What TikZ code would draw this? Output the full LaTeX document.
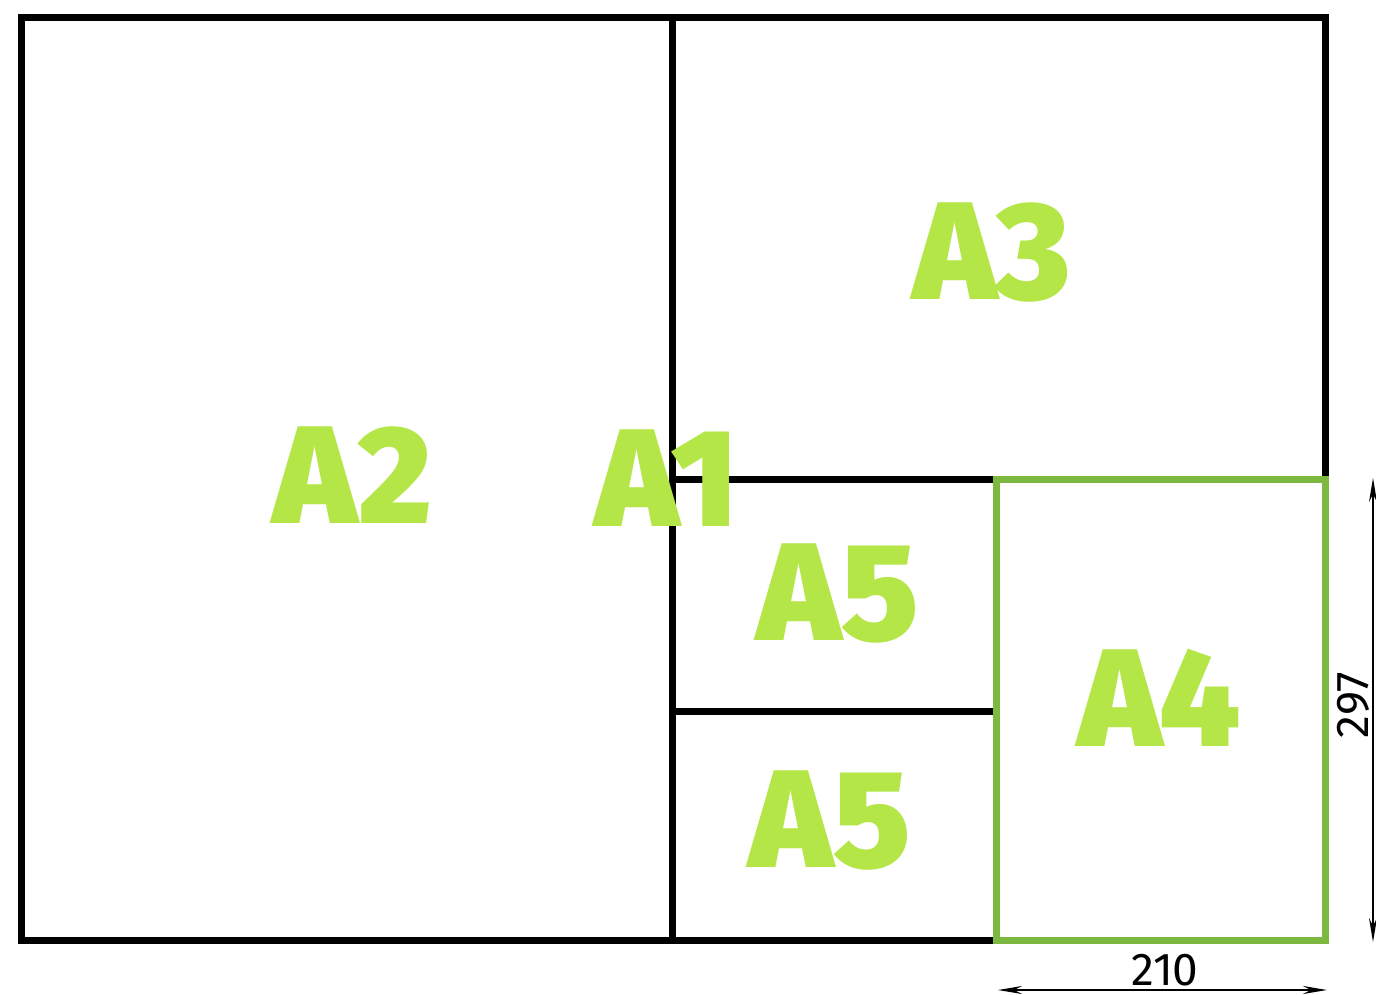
\documentclass[tikz,border=0pt]{standalone}
\usepackage{fontspec}
\setmainfont{Fira Sans}
\newfontfamily\heavyfont{Fira Sans}[UprightFont=* Black]
\usetikzlibrary{arrows.meta}
\definecolor{limegreen}{RGB}{181,230,72}
\definecolor{leafgreen}{RGB}{125,184,65}

\begin{document}
\begin{tikzpicture}[
x=1pt, y=-1pt,
sheet/.style={draw=black, line width=7pt},
sizelabel/.style={text=limegreen, font=\heavyfont\fontsize{139}{139}\selectfont, inner sep=0pt},
dimlabel/.style={font=\fontsize{46}{46}\selectfont, inner sep=0pt},
dimline/.style={line width=2pt, {Stealth[length=24pt,width=8pt]}-{Stealth[length=24pt,width=8pt]}},
]
\useasboundingbox (0,0) rectangle (1376,995);

% paper outlines
\draw[sheet] (21,18) rectangle (1325,940);
\draw[sheet] (672,18) -- (672,940);
\draw[sheet] (672,479) -- (1325,479);
\draw[sheet] (672,711) -- (996,711);
\draw[draw=leafgreen, line width=7pt] (996,479) rectangle (1325,940);

% format names
\node[sizelabel] (a2)  at (353,475) {A2};
\node[sizelabel] (a1)  at (667,478) {A1};
\node[sizelabel] (a3)  at (992,253) {A3};
\node[sizelabel] (a5t) at (838,594) {A5};
\node[sizelabel] (a5b) at (830,821) {A5};
\node[sizelabel] (a4)  at (1160,698) {A4};

% dimensions of A4
\coordinate (wl) at (998,990);
\coordinate (wr) at (1327,990);
\coordinate (ht) at (1373,478);
\coordinate (hb) at (1373,942);
\draw[dimline] (wl) -- (wr);
\draw[dimline] (ht) -- (hb);
\node[dimlabel] (w) at (1165,970) {210};
\node[dimlabel, rotate=90] (h) at (1353,705) {297};

\end{tikzpicture}
\end{document}
